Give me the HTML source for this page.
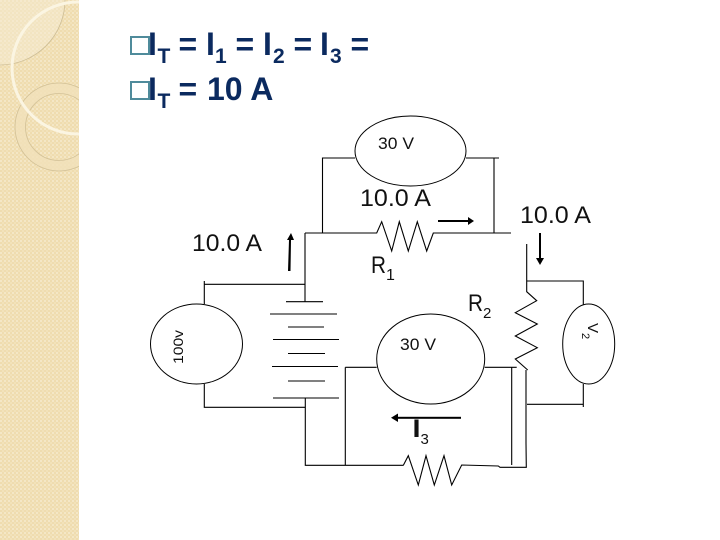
<!DOCTYPE html>
<html>
<head>
<meta charset="utf-8">
<style>
html,body{margin:0;padding:0;background:#fff;width:720px;height:540px;overflow:hidden}
svg{display:block}
text{font-family:"Liberation Sans",sans-serif}
.t{font-weight:bold;fill:#0b2a5f;font-size:32px}
.s{font-weight:bold;fill:#0b2a5f;font-size:21px}
.l{fill:#111;font-size:24px}
.w{fill:none;stroke:#000;stroke-width:1.1}
.b{fill:none;stroke:#000;stroke-width:1}
</style>
</head>
<body>
<svg width="720" height="540" viewBox="0 0 720 540" xmlns="http://www.w3.org/2000/svg">
<defs>
<pattern id="chk" width="4" height="4" patternUnits="userSpaceOnUse">
<rect width="4" height="4" fill="#efdcaf"/>
<rect width="2" height="2" fill="#f4e7c6"/>
<rect x="2" y="2" width="2" height="2" fill="#f2e2ba"/>
</pattern>
<clipPath id="side"><rect width="79" height="540"/></clipPath>
</defs>
<g clip-path="url(#side)">
<rect width="79" height="540" fill="url(#chk)"/>
<circle cx="0" cy="0" r="65" fill="#f6ecd4" fill-opacity=".5" stroke="#cdbd95" stroke-width=".8"/>
<path fill="#f1e1ba" fill-rule="evenodd" fill-opacity=".85" d="M15 127a44 44 0 1 0 88 0a44 44 0 1 0-88 0ZM25.500 127a33.500 33.500 0 1 0 67 0a33.500 33.500 0 1 0-67 0Z"/>
<circle cx="59" cy="127" r="44" fill="none" stroke="#d2c197" stroke-width=".8"/>
<circle cx="59" cy="127" r="33.500" fill="none" stroke="#d2c197" stroke-width=".8"/>
<circle cx="78" cy="68" r="66" fill="none" stroke="#fbf5e2" stroke-width="3"/>
</g>

<rect x="131" y="37" width="18" height="17" fill="#fff" stroke="#4f8b9b" stroke-width="2"/>
<rect x="131" y="82" width="18" height="17" fill="#fff" stroke="#4f8b9b" stroke-width="2"/>
<text class="t" x="148" y="55">I</text>
<text class="s" x="157.500" y="63">T</text>
<text class="t" x="178.500" y="55">=</text>
<text class="t" x="206" y="55">I</text>
<text class="s" x="215" y="63">1</text>
<text class="t" x="235.500" y="55">=</text>
<text class="t" x="263" y="55">I</text>
<text class="s" x="273" y="63">2</text>
<text class="t" x="293.500" y="55">=</text>
<text class="t" x="320" y="55">I</text>
<text class="s" x="330" y="63">3</text>
<text class="t" x="350.500" y="55">=</text>
<text class="t" x="148" y="100">I</text>
<text class="s" x="157.500" y="108">T</text>
<text class="t" x="178.500" y="100">=</text>
<text class="t" x="207" y="100">10 A</text>

<g class="w">
<path d="M355 158H322.500V233"/>
<path d="M466 158H499"/>
<path d="M494 158V233"/>
<path d="M305 233H376.700L381.700 221.700L391.700 251L399.300 221.700L408.300 251L417.300 221.700L426.700 251L433.300 233H511"/>
<path d="M305 233V301.700"/>
<path d="M204.300 281V304M204.300 284.300H305"/>
<path d="M204.300 384V407.300H305"/>
<path d="M305.300 398V465.300H403L403.500 465L408.300 455.700L418.300 485L426 455.700L434.300 485L444 455.700L451.700 485L461.700 465L498.300 466L500 467.300H526.300L526 443V370"/>
<path d="M345.300 367.300V465.300"/>
<path d="M345.300 367.300H376.700"/>
<path d="M484.700 367.300H516.700"/>
<path d="M511.700 367.300V465"/>
<path d="M526.700 244V291.700L536.700 300.700L515.300 312.700L537.300 324L515.300 336L537.300 347.700L515.300 359L527.700 370"/>
<path d="M526.700 281H583.300V304.600"/>
<path d="M583.300 384V407"/>
<path d="M527 404.300H583.300"/>
<path d="M286 301.700H323M270 314H337M288 327H324M273 339.500H339M288 353.500H325M272 366.500H338M288 381H325M273 398H339"/>
</g>
<g class="b">
<ellipse cx="410.500" cy="151" rx="55.500" ry="35"/>
<ellipse cx="196.500" cy="344" rx="46" ry="40"/>
<ellipse cx="430.700" cy="359" rx="54" ry="45"/>
<ellipse cx="588.700" cy="344" rx="26" ry="40"/>
</g>

<g fill="#000" stroke="none">
<path d="M288 271L289 240H287L291 233L294 240H291L290.500 271Z"/>
<rect x="438" y="220" width="30" height="2"/><path d="M468 217L474 221L468 225Z"/>
<rect x="539" y="233" width="2" height="26"/><path d="M536 258L540 265L544 258Z"/>
<rect x="396" y="416.800" width="65" height="2"/><path d="M398 413.500L391 417.800L398 422Z"/>
</g>

<text class="l" x="378" y="149" style="font-size:17px" textLength="36" lengthAdjust="spacingAndGlyphs">30 V</text>
<text class="l" x="360" y="206" textLength="71" lengthAdjust="spacingAndGlyphs">10.0 A</text>
<text class="l" x="520" y="223" textLength="71" lengthAdjust="spacingAndGlyphs">10.0 A</text>
<text class="l" x="192" y="251" textLength="70" lengthAdjust="spacingAndGlyphs">10.0 A</text>
<text class="l" x="371" y="273" textLength="15" lengthAdjust="spacingAndGlyphs">R</text>
<text class="l" x="386" y="280" style="font-size:16px">1</text>
<text class="l" x="468" y="311" textLength="15" lengthAdjust="spacingAndGlyphs">R</text>
<text class="l" x="483" y="318" style="font-size:15px">2</text>
<text class="l" x="400" y="350" style="font-size:17px" textLength="36" lengthAdjust="spacingAndGlyphs">30 V</text>
<text class="l" transform="translate(183 364) rotate(-90)" style="font-size:14px" textLength="34" lengthAdjust="spacingAndGlyphs">100v</text>
<text class="l" transform="translate(588 323) rotate(90)" style="font-size:15px">V</text>
<text class="l" transform="translate(582 333) rotate(90)" style="font-size:11px">2</text>
<text class="l" x="412.500" y="437" style="font-size:25px;font-weight:bold" textLength="8" lengthAdjust="spacingAndGlyphs">I</text>
<text class="l" x="420.500" y="444" style="font-size:15px">3</text>
</svg>
</body>
</html>
